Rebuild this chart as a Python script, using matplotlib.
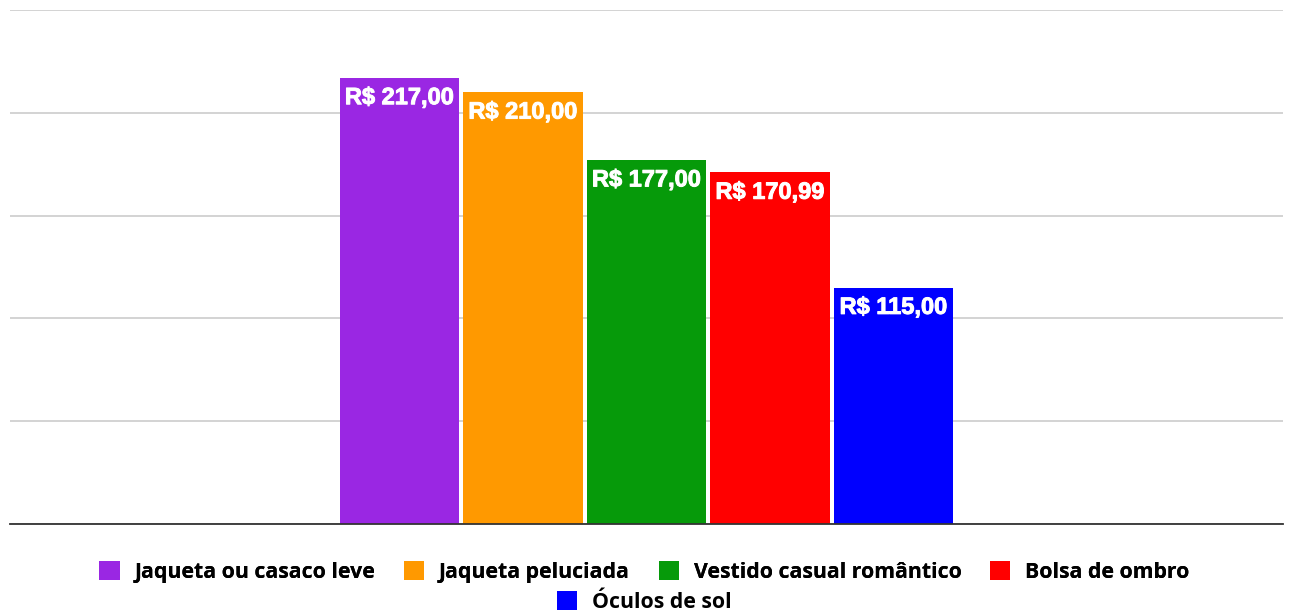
import matplotlib
matplotlib.use('Agg')
import matplotlib.pyplot as plt
import matplotlib.patheffects as pe

# dados
produtos = ['Jaqueta ou casaco leve', 'Jaqueta peluciada', 'Vestido casual romântico',
            'Bolsa de ombro', 'Óculos de sol']
precos = [217.00, 210.00, 177.00, 170.99, 115.00]
rotulos = ['R$ 217,00', 'R$ 210,00', 'R$ 177,00', 'R$ 170,99', 'R$ 115,00']
cores = ['#9a27e3', '#ff9900', '#069a0a', '#ff0000', '#0000ff']
grade = [0, 50, 100, 150, 200, 250]

W, H = 1289, 613
fig = plt.figure(figsize=(W / 100, H / 100), dpi=100)
ax = fig.add_axes([10 / W, 1 - 524 / H, 1273 / W, 514 / H])

x = list(range(len(produtos)))
barras = ax.bar(x, precos, width=0.97, color=cores, zorder=3)

for xi, v, txt in zip(x, precos, rotulos):
    ax.annotate(txt, (xi, v), xytext=(0, -6), textcoords='offset points',
                ha='center', va='top', color='white', fontsize=17,
                fontweight='bold', family='Liberation Sans', zorder=4,
                path_effects=[pe.withStroke(linewidth=0.7, foreground='white')])

meia = 1273 / 2 / 123.5
ax.set_xlim(2 - meia, 2 + meia)
ax.set_ylim(0, 250)
ax.set_yticks(grade)
ax.yaxis.grid(True, color='#cccccc', linewidth=1.2, zorder=0)
ax.tick_params(left=False, bottom=False, labelleft=False, labelbottom=False)
for s in ['top', 'right', 'left']:
    ax.spines[s].set_visible(False)
ax.spines['bottom'].set_color('#333333')
ax.spines['bottom'].set_linewidth(1.3)
ax.spines['bottom'].set_zorder(5)

fonte_leg = {'family': 'Open Sans', 'weight': 'bold', 'size': 15.3}
opts = dict(frameon=False, prop=fonte_leg, handlelength=0.95, handleheight=0.95,
            handletextpad=0.7, borderpad=0, borderaxespad=0)
leg1 = fig.legend(barras[:4], produtos[:4], loc='center', bbox_to_anchor=(0.5, 1 - 572 / H),
                  ncol=4, columnspacing=1.35, **opts)
fig.legend(barras[4:], produtos[4:], loc='center', bbox_to_anchor=(0.5, 1 - 602 / H),
           ncol=1, **opts)
fig.add_artist(leg1)

fig.savefig('out.png', dpi=100)
